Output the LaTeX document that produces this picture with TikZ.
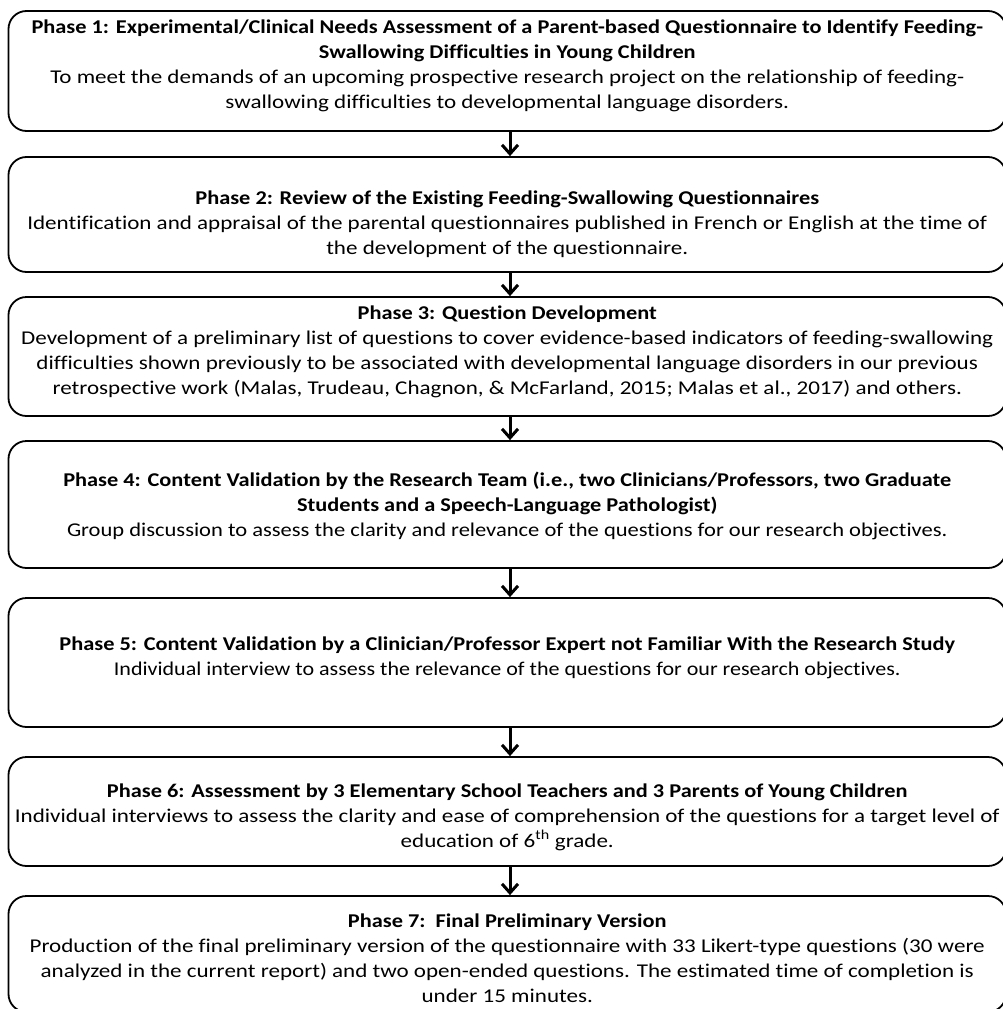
\documentclass[tikz,border=0pt]{standalone}
\usepackage{fontspec}
\setmainfont{Carlito}[FakeStretch=1.182, Ligatures=NoCommon]
\newfontfamily\headf{Carlito}[FakeStretch=1.146, Ligatures=NoCommon]
\newfontfamily\narrowf{Carlito}[FakeStretch=1.13, Ligatures=NoCommon]
\newfontfamily\semif{Carlito}[FakeStretch=1.155, Ligatures=NoCommon]
\usetikzlibrary{arrows.meta}
\newcommand{\hd}[1]{{\headf\bfseries #1}}
\begin{document}
\begin{tikzpicture}[x=1pt,y=-1pt,
  phasebox/.style={draw=black, line width=1.8pt, rounded corners=18pt, inner sep=0pt, minimum width=997.5pt},
  phasetext/.style={align=center, font=\fontsize{19.5}{25}\selectfont, inner sep=0pt},
  flow/.style={line width=3pt, -{Straight Barb[length=9pt,width=16pt,line width=3pt]}}]
\useasboundingbox (0,0) rectangle (1003,1009);
\clip (0,0) rectangle (1003,1009);
\node[phasebox, minimum height=120pt] (b1) at (507.25,71) {};
\node[phasebox, minimum height=115pt] (b2) at (507.25,214.5) {};
\node[phasebox, minimum height=119pt] (b3) at (507.25,356.5) {};
\node[phasebox, minimum height=127pt] (b4) at (507.25,504.5) {};
\node[phasebox, minimum height=129pt] (b5) at (507.25,662.5) {};
\node[phasebox, minimum height=109pt] (b6) at (507.25,811.5) {};
\node[phasebox, minimum height=116pt] (b7) at (507.25,954) {};
\node[phasetext] (t1) at (507.25,66)
 {\hd{Phase 1: Experimental/Clinical Needs Assessment of a Parent-based Questionnaire to Identify Feeding-}\\
  \hd{Swallowing Difficulties in Young Children}\\
  To meet the demands of an upcoming prospective research project on the relationship of feeding-\\
  swallowing difficulties to developmental language disorders.};
\node[phasetext] (t2) at (507.25,224)
 {\hd{Phase 2: Review of the Existing Feeding-Swallowing Questionnaires}\\
  Identification and appraisal of the parental questionnaires published in French or English at the time of\\
  the development of the questionnaire.};
\node[phasetext] (t3) at (507.25,352)
 {\hd{Phase 3: Question Development}\\
  Development of a preliminary list of questions to cover evidence-based indicators of feeding-swallowing\\
  difficulties shown previously to be associated with developmental language disorders in our previous\\
  retrospective work (Malas, Trudeau, Chagnon, \& McFarland, 2015; Malas et al., 2017) and others.};
\node[phasetext] (t4) at (507.25,506)
 {\hd{Phase 4: Content Validation by the Research Team (i.e., two Clinicians/Professors, two Graduate}\\
  \hd{Students and a Speech-Language Pathologist)}\\
  {\semif Group discussion to assess the clarity and relevance of the questions for our research objectives.}};
\node[phasetext] (t5) at (507.25,658)
 {\hd{Phase 5: Content Validation by a Clinician/Professor Expert not Familiar With the Research Study}\\
  {\narrowf Individual interview to assess the relevance of the questions for our research objectives.}};
\node[phasetext] (t6) at (507.25,817)
 {\hd{Phase 6: Assessment by 3 Elementary School Teachers and 3 Parents of Young Children}\\
  Individual interviews to assess the clarity and ease of comprehension of the questions for a target level of\\
  education of 6\textsuperscript{th} grade.};
\node[phasetext] (t7) at (507.25,958)
 {\hd{Phase 7:\ \ Final Preliminary Version}\\
  Production of the final preliminary version of the questionnaire with 33 Likert-type questions (30 were\\
  analyzed in the current report) and two open-ended questions. The estimated time of completion is\\
  under 15 minutes.};
\foreach \a/\b in {b1/b2,b2/b3,b3/b4,b4/b5,b5/b6,b6/b7}
  \draw[flow] ([xshift=2.75pt]\a.south) -- ([xshift=2.75pt]\b.north);
\end{tikzpicture}
\end{document}
